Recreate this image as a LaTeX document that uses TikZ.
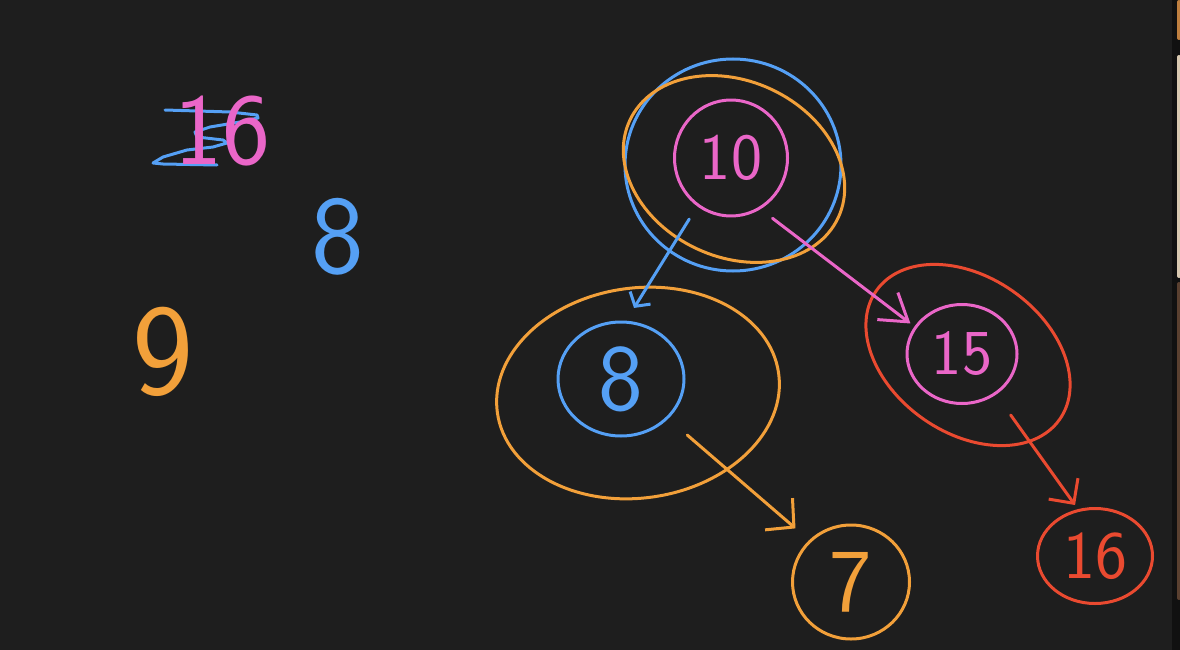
\documentclass[tikz,border=0pt]{standalone}
\usetikzlibrary{arrows.meta,shapes.geometric}
\definecolor{bg}{HTML}{1E1E1E}
\definecolor{hblue}{HTML}{55A0F5}
\definecolor{hpink}{HTML}{EA66C8}
\definecolor{horange}{HTML}{F2A03A}
\definecolor{hred}{HTML}{EA4A30}
\definecolor{edgedark}{HTML}{111111}
\definecolor{edgeorange}{HTML}{C08040}
\definecolor{edgebeige}{HTML}{D8C8B0}
\definecolor{edgebrown}{HTML}{5A4030}
\begin{document}
\begin{tikzpicture}[x=1pt,y=-1pt,line cap=round,line join=round,
  ink/.style={line width=3pt},
  numnode/.style={ellipse,ink,inner sep=0pt},
  digits/.style={inner sep=0pt},
  fs/.style={font=\sffamily\fontsize{#1}{#1}\selectfont},
]
\fill[bg] (0,0) rectangle (1180,650);
\useasboundingbox (0,0) rectangle (1180,650);
% right window edge
\fill[edgedark] (1172,0) rectangle (1180,650);
\fill[edgeorange,rounded corners=2pt] (1177,0) rectangle (1181,40);
\fill[edgebeige,rounded corners=2pt] (1177,55) rectangle (1181,278);
\fill[edgebrown,rounded corners=2pt] (1177,282) rectangle (1181,600);

% left side scribbles
\draw[ink,hblue] (165,110) -- (230,112) -- (257,115) -- (258,118) -- (240,122) -- (210,127) -- (195,132) -- (197,137) -- (223,140) -- (227,143) -- (213,147) -- (187,150) -- (163,157) -- (153,163) -- (163,164) -- (217,165);
\node[digits,text=hpink,fs=102] (s16) at (222,131) {16};
\node[digits,text=hblue,fs=112] (s8) at (338,237) {8};
\node[digits,text=horange,fs=130] (s9) at (163,352) {9};

% outer rings
\draw[ink,hblue] (733,165) ellipse [x radius=108pt,y radius=106pt];
\draw[ink,horange,rotate around={-25:(734,169)}] (734,169) ellipse [x radius=115pt,y radius=88pt];
\draw[ink,horange,rotate around={8:(638,393)}] (638,393) ellipse [x radius=142pt,y radius=105pt];
\draw[ink,hred,rotate around={-35:(968,355)}] (968,355) ellipse [x radius=112pt,y radius=78pt];

% tree nodes
\node[numnode,draw=hpink,text=hpink,fs=66,minimum width=113pt,minimum height=116pt] (n10) at (731,158) {10};
\node[numnode,draw=hblue,text=hblue,fs=95,minimum width=126pt,minimum height=114pt] (n8) at (621,379) {8};
\node[numnode,draw=hpink,text=hpink,fs=64,minimum width=110pt,minimum height=99pt] (n15) at (962,354) {15};
\node[numnode,draw=horange,text=horange,fs=90,minimum width=117pt,minimum height=114pt] (n7) at (851,582) {7};
\node[numnode,draw=hred,text=hred,fs=68,minimum width=115pt,minimum height=95pt] (n16) at (1095,556) {16};

% connectors
\draw[ink,hblue,-{Straight Barb[length=10pt,width=24pt]},shorten <=15pt,shorten >=15pt] (n10.235) -- (n8.85);
\draw[ink,hpink,-{Straight Barb[length=26pt,width=34pt]},shorten <=15pt,shorten >=5pt] (n10.-60) -- (n15.150);
\draw[ink,horange,-{Straight Barb[length=20pt,width=42pt]},shorten <=25pt,shorten >=18pt] (n8.-40) -- (n7.135);
\draw[ink,hred,-{Straight Barb[length=18pt,width=36pt]},shorten <=25pt,shorten >=5pt] (n15.-50) -- (n16.110);
\end{tikzpicture}
\end{document}
